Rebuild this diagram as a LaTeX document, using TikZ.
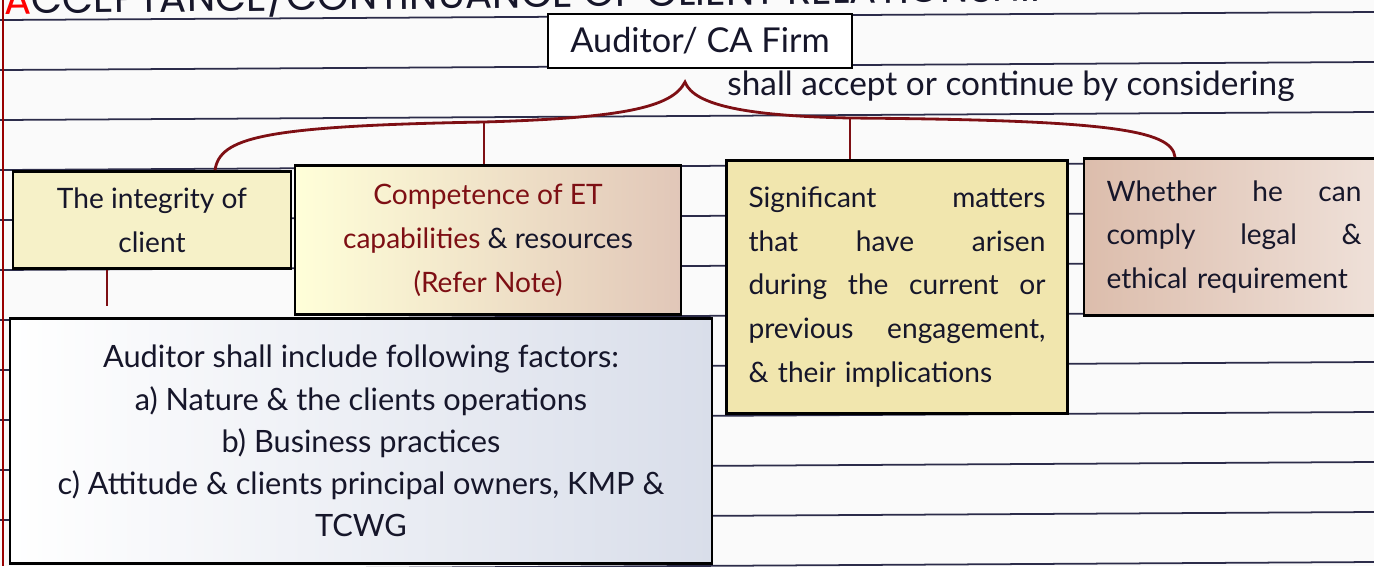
\documentclass[tikz,border=0pt]{standalone}
\usepackage{fontspec}
\setmainfont{Lato}
\newfontfamily\titlefont{Poppins}
\usetikzlibrary{positioning}
\definecolor{inkred}{HTML}{7E0F14}
\definecolor{ink}{HTML}{16162A}
\definecolor{rulecol}{HTML}{2C2C4A}
\definecolor{paleyellow}{HTML}{F6F1C8}
\definecolor{sandyellow}{HTML}{F1E6AE}
\definecolor{rosebrown}{HTML}{DCBDAC}
\definecolor{paleblue}{HTML}{D9DEEA}
\begin{document}
\begin{tikzpicture}[
x=0.02cm, y=-0.02cm,
box/.style={
draw=black,
line width=1.6pt,
align=center,
inner sep=0pt,
text=ink,
font=\fontsize{16}{25}\selectfont
},
link/.style={draw=inkred, line width=1.6pt},
ruling/.style={draw=rulecol, line width=1pt}
]
\useasboundingbox (0,0) rectangle (1374,566);
\clip (0,0) rectangle (1374,566);
\fill[white!96!gray] (0,0) rectangle (1374,566);
\foreach \y in {20,70,...,570}
  \draw[ruling] (0,\y) -- (1374,\y-8);
\draw[red!60!black, line width=0.6pt] (3,0) -- (3,566);

\node[anchor=base west, rotate=0.7, inner sep=0pt, text=ink, font=\titlefont\fontsize{23}{23}\selectfont] (title) at (4,14) {\textcolor{red}{A}CCEPTANCE/CONTINUANCE OF CLIENT RELATIONSHIP};

\node[box, fill=white, minimum width=6.08cm, minimum height=1.08cm, font=\fontsize{19.5}{22}\selectfont] (firm) at (700,41) {Auditor/ CA Firm};
\node[anchor=west, inner sep=0pt, text=ink, font=\fontsize{19}{22}\selectfont] (accept) at (727,86) {shall accept or continue by considering};

\node[box, fill=paleyellow, minimum width=5.56cm, minimum height=1.94cm] (integrity) at (152,220) {The integrity of\\client};
\node[box, left color=white!85!yellow, right color=rosebrown!85, minimum width=7.72cm, minimum height=2.98cm] (competence) at (488,240) {\textcolor{inkred}{Competence of ET}\\\textcolor{inkred}{capabilities} \& resources\\\textcolor{inkred}{(Refer Note)}};
\node[box, fill=sandyellow, minimum width=6.82cm, minimum height=5.06cm, text width=5.94cm, align=left] (matters) at (897,287) {Significant \hfill matters\\that \hfill have \hfill arisen\\during \hfill the \hfill current \hfill or\\previous \hfill engagement,\\\& their implications};
\node[box, left color=rosebrown, right color=rosebrown!45!white, minimum width=6cm, minimum height=3.14cm, text width=5.1cm, align=left] (comply) at (1234,237) {Whether \hfill he \hfill can\\comply \hfill legal \hfill \&\\ethical requirement};
\node[box, left color=white, right color=paleblue, minimum width=14.04cm, minimum height=4.9cm, font=\fontsize{17.5}{24}\selectfont] (factors) at (361,441) {Auditor shall include following factors:\\a) Nature \& the clients operations\\b) Business practices\\c) Attitude \& clients principal owners, KMP \&\\TCWG};

\coordinate (peak) at (685,82);
\coordinate (jl) at (484,122);
\coordinate (jr) at (850,118);
\coordinate (bl) at (215,0);
\coordinate (br) at (1175,0);
\coordinate (dl) at (107,0);
\draw[link] (bl |- integrity.north) .. controls (220,138) and (260,126) .. (jl) .. controls (620,118) and (672,108) .. (peak) .. controls (694,106) and (750,116) .. (jr) .. controls (1110,120) and (1172,130) .. (br |- comply.north);
\draw[link] (jl) -- (jl |- competence.north);
\draw[link] (jr) -- (jr |- matters.north);
\draw[link] (dl |- integrity.south) -- ++(0,36);
\end{tikzpicture}
\end{document}
